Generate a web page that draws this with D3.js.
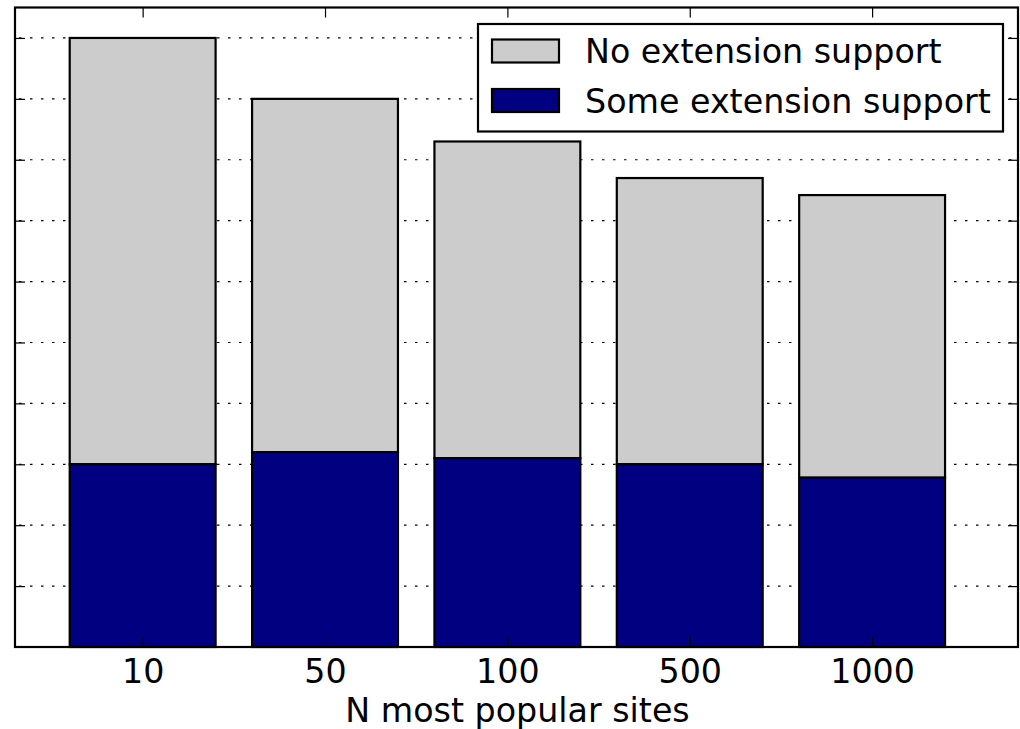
<!DOCTYPE html>
<html>
<head>
<meta charset="utf-8">
<script src="https://cdn.jsdelivr.net/npm/d3@7"></script>
<style>
  body { margin: 0; background: #fff; }
  text { font-family: "DejaVu Sans", sans-serif; }
</style>
</head>
<body>
<svg id="chart" width="1020" height="729"></svg>
<script>
// categories and stacked values
var sites = ["10", "50", "100", "500", "1000"];
var someSupport = [3.0, 3.2, 3.1, 3.0, 2.78];
var noSupport = [7.0, 5.8, 5.2, 4.7, 4.64];
var yTicks = [1, 2, 3, 4, 5, 6, 7, 8, 9, 10];
var seriesNames = ["No extension support", "Some extension support"];

var plotL = 15, plotR = 1018, plotT = 7.5, plotB = 647;
var fontSize = 33.3;

var svg = d3.select("#chart");

var x = d3.scaleLinear()
    .domain([-0.7, 4.8])
    .range([plotL, plotR]);

var y = d3.scaleLinear()
    .domain([0, 10.5])
    .range([plotB, plotT]);

var barW = x(0.8) - x(0);

// dotted horizontal grid
svg.append("g").selectAll("line")
    .data(yTicks)
  .enter().append("line")
    .attr("x1", plotL).attr("x2", plotR)
    .attr("y1", function(d) { return y(d); })
    .attr("y2", function(d) { return y(d); })
    .attr("stroke", "#000")
    .attr("stroke-width", 1.2)
    .attr("stroke-dasharray", "2.5,8.5")
    .attr("stroke-dashoffset", -4);

// build stacked rows
var rows = sites.map(function(s, i) {
  return { site: s, i: i, some: someSupport[i], none: noSupport[i] };
});

var bar = svg.append("g").selectAll("g")
    .data(rows)
  .enter().append("g");

bar.append("rect")
    .attr("x", function(d) { return x(d.i) - barW / 2; })
    .attr("width", barW)
    .attr("y", function(d) { return y(d.some + d.none); })
    .attr("height", function(d) { return y(d.some) - y(d.some + d.none); })
    .attr("fill", "#cccccc")
    .attr("stroke", "#000")
    .attr("stroke-width", 2.2);

bar.append("rect")
    .attr("x", function(d) { return x(d.i) - barW / 2; })
    .attr("width", barW)
    .attr("y", function(d) { return y(d.some); })
    .attr("height", function(d) { return y(0) - y(d.some); })
    .attr("fill", "#000080")
    .attr("stroke", "#000")
    .attr("stroke-width", 2.2);

// inward ticks on all four sides
var tickLen = 10;
var yAxisL = d3.axisLeft(y).tickValues(yTicks).tickSize(-tickLen).tickFormat("");
var yAxisR = d3.axisRight(y).tickValues(yTicks).tickSize(-tickLen).tickFormat("");
var xTop = d3.axisTop(x).tickValues(d3.range(sites.length)).tickSize(-tickLen).tickFormat("");
var xBottom = d3.axisBottom(x).tickValues(d3.range(sites.length)).tickSize(-tickLen)
    .tickPadding(12)
    .tickFormat(function(d) { return sites[d]; });

svg.append("g").attr("transform", "translate(" + plotL + ",0)").call(yAxisL);
svg.append("g").attr("transform", "translate(" + plotR + ",0)").call(yAxisR);
svg.append("g").attr("transform", "translate(0," + plotT + ")").call(xTop);
var xb = svg.append("g").attr("transform", "translate(0," + plotB + ")").call(xBottom);
xb.selectAll("text")
    .attr("font-size", fontSize)
    .attr("font-family", "DejaVu Sans")
    .attr("fill", "#000");

svg.selectAll(".domain").remove();
svg.selectAll(".tick line").attr("stroke", "#000").attr("stroke-width", 1.2);

// frame
svg.append("rect")
    .attr("x", plotL).attr("y", plotT)
    .attr("width", plotR - plotL).attr("height", plotB - plotT)
    .attr("fill", "none")
    .attr("stroke", "#000")
    .attr("stroke-width", 2.2);

// axis label
svg.append("text")
    .attr("x", (plotL + plotR) / 2 + 1)
    .attr("y", 722)
    .attr("text-anchor", "middle")
    .attr("font-size", fontSize)
    .text("N most popular sites");

// legend
var legend = svg.append("g");
legend.append("rect")
    .attr("x", 478).attr("y", 24)
    .attr("width", 525).attr("height", 107.5)
    .attr("fill", "#fff")
    .attr("stroke", "#000")
    .attr("stroke-width", 2.2);

var legendColors = ["#cccccc", "#000080"];
var item = legend.selectAll("g")
    .data(seriesNames)
  .enter().append("g")
    .attr("transform", function(d, i) { return "translate(0," + i * 49.5 + ")"; });

item.append("rect")
    .attr("x", 492).attr("y", 39.5)
    .attr("width", 67).attr("height", 23)
    .attr("fill", function(d, i) { return legendColors[i]; })
    .attr("stroke", "#000")
    .attr("stroke-width", 2.2);

item.append("text")
    .attr("x", 585)
    .attr("y", 63)
    .attr("font-size", fontSize)
    .text(function(d) { return d; });
</script>
</body>
</html>
